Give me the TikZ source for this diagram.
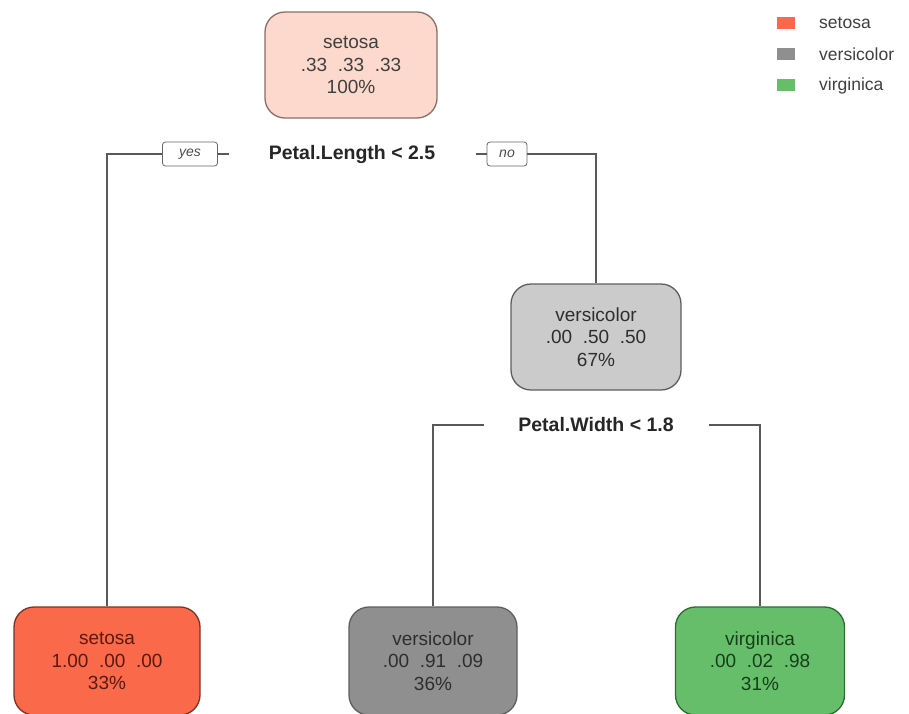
\documentclass[tikz,border=0pt]{standalone}
\usepackage{fontspec}
\setmainfont{Liberation Sans}
\begin{document}
\begin{tikzpicture}[x=1pt,y=-1pt,
  box/.style={draw, line width=1.3pt, rounded corners=20pt, align=center,
    inner sep=0pt, font=\fontsize{19}{22.5}\selectfont},
  split/.style={font=\bfseries\fontsize{19.5}{22}\selectfont, text=black!85},
  tag/.style={draw=black!60, line width=0.8pt, rounded corners=3pt, fill=white,
    minimum height=24pt, inner sep=0pt, font=\itshape\fontsize{14}{16}\selectfont, text=black!70},
  edge/.style={draw=black!65, line width=2pt},
  legtext/.style={anchor=west, font=\fontsize{17.5}{20}\selectfont, text=black!75, inner sep=0pt},
  legsq/.style={minimum width=18pt, minimum height=12pt, inner sep=0pt}
]
\definecolor{rootfill}{HTML}{FCD9CC}
\definecolor{rootline}{HTML}{8A6E68}
\definecolor{setosafill}{HTML}{F9694A}
\definecolor{setosaline}{HTML}{7A3324}
\definecolor{setosatext}{HTML}{5A1A10}
\definecolor{midfill}{HTML}{CBCBCB}
\definecolor{grayfill}{HTML}{8F8F8F}
\definecolor{grayline}{HTML}{5E5E5E}
\definecolor{graytext}{HTML}{2E2E2E}
\definecolor{virfill}{HTML}{66BE6A}
\definecolor{virline}{HTML}{2F6A32}
\definecolor{virtext}{HTML}{163F18}

\useasboundingbox (0,0) rectangle (909,713);
\fill[white] (0,0) rectangle (909,713);
\clip (0,0) rectangle (909,713);

% tree nodes
\node[box, fill=rootfill, draw=rootline, text=black!75, minimum width=172pt, minimum height=106pt]
  (root) at (351,65) {setosa\\.33\ \ .33\ \ .33\\100\%};
\node[box, fill=midfill, draw=grayline, text=graytext, minimum width=170pt, minimum height=106pt]
  (mid) at (596,337) {versicolor\\.00\ \ .50\ \ .50\\67\%};
\node[box, fill=setosafill, draw=setosaline, text=setosatext, minimum width=186pt, minimum height=108pt]
  (leafA) at (107,661) {setosa\\1.00\ \ .00\ \ .00\\33\%};
\node[box, fill=grayfill, draw=grayline, text=graytext, minimum width=168pt, minimum height=108pt]
  (leafB) at (433,661) {versicolor\\.00\ \ .91\ \ .09\\36\%};
\node[box, fill=virfill, draw=virline, text=virtext, minimum width=169pt, minimum height=108pt]
  (leafC) at (760,661) {virginica\\.00\ \ .02\ \ .98\\31\%};

% split labels
\node[split] (s1) at (352,154) {Petal.Length < 2.5};
\node[split] (s2) at (596,425) {Petal.Width < 1.8};

% yes / no tags
\node[tag, minimum width=55pt] (yes) at (190,154) {yes};
\node[tag, minimum width=40pt] (no) at (507,154) {no};

% branch ends beside the labels
\coordinate (yesEnd) at (229,154);
\coordinate (noEnd) at (476,154);
\coordinate (s2L) at (484,425);
\coordinate (s2R) at (709,425);

% connectors
\draw[edge] (yesEnd) -- (yes.east);
\draw[edge] (yes.west) -- (yes.west -| leafA.north) -- (leafA.north);
\draw[edge] (noEnd) -- (no.west);
\draw[edge] (no.east) -- (no.east -| mid.north) -- (mid.north);
\draw[edge] (s2L) -- (s2L -| leafB.north) -- (leafB.north);
\draw[edge] (s2R) -- (s2R -| leafC.north) -- (leafC.north);

% legend
\node[legsq, fill=setosafill] (lgA) at (786,23) {};
\node[legsq, fill=grayfill] (lgB) at (786,54) {};
\node[legsq, fill=virfill] (lgC) at (786,85) {};
\node[legtext] (ltA) at (819,23) {setosa};
\node[legtext] (ltB) at (819,54) {versicolor};
\node[legtext] (ltC) at (819,86) {virginica};
\end{tikzpicture}
\end{document}
